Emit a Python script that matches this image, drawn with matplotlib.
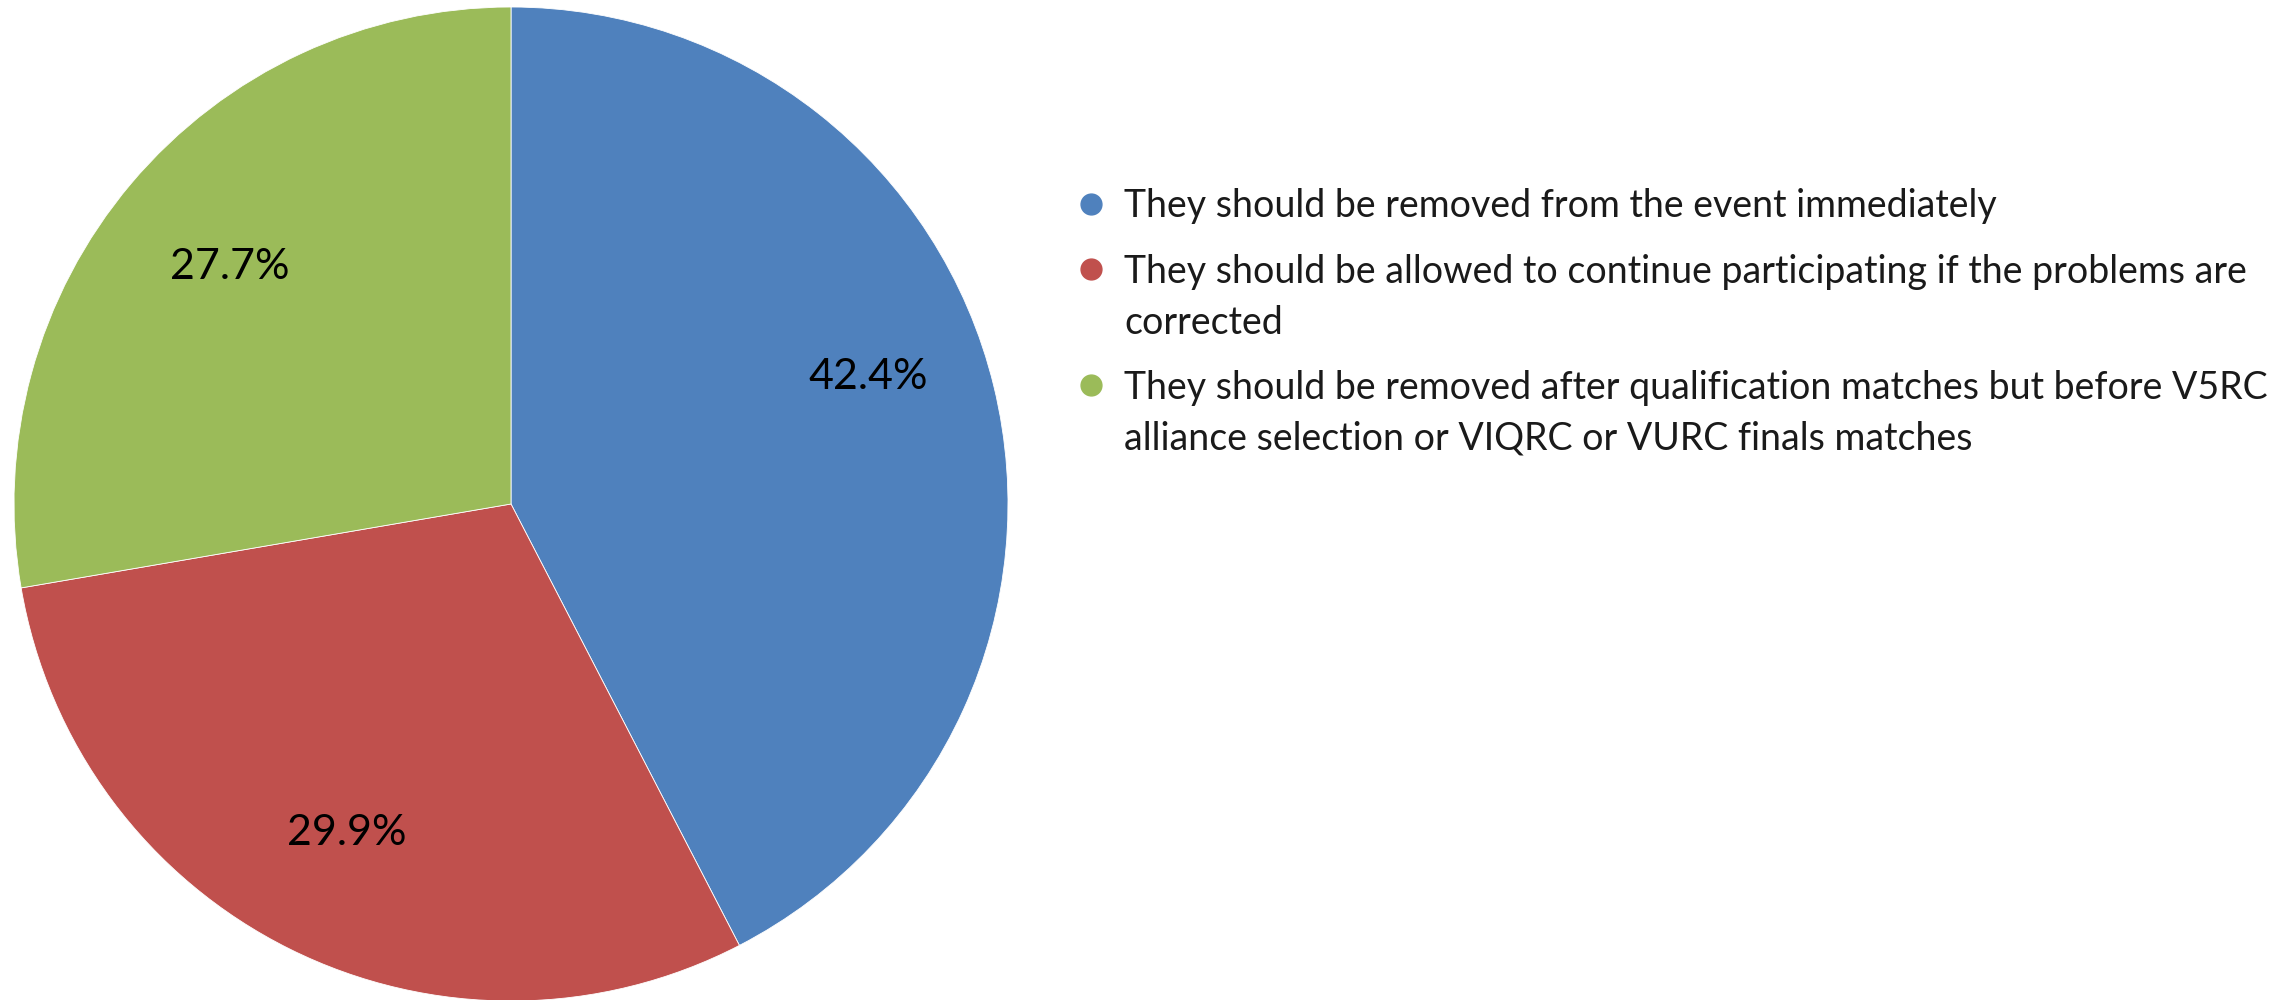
import matplotlib
matplotlib.use("Agg")
import matplotlib.pyplot as plt

plt.rcParams['font.family'] = ['Lato', 'DejaVu Sans']

responses = [
    "They should be removed from the event immediately",
    "They should be allowed to continue participating if the problems are\ncorrected",
    "They should be removed after qualification matches but before V5RC\nalliance selection or VIQRC or VURC finals matches",
]
shares = [42.4, 29.9, 27.7]
colors = ["#4F81BD", "#C0504D", "#9BBB59"]

W, H = 2282, 1000
fig = plt.figure(figsize=(W / 100, H / 100), dpi=100)

# pie occupies the left part of the canvas
cx, cy, r = 511, 504, 497
ax = fig.add_axes([(cx - r) / W, (H - cy - r) / H, 2 * r / W, 2 * r / H])
wedges, _, pct_texts = ax.pie(
    shares, colors=colors, startangle=90, counterclock=False,
    autopct="%.1f%%", pctdistance=0.74,
    wedgeprops=dict(edgecolor="white", linewidth=0.6),
    textprops=dict(fontsize=31, color="black"),
)
# nudge the largest slice's label a little upward
x0, y0 = pct_texts[0].get_position()
pct_texts[0].set_position((x0, y0 + 0.08))
ax.set_xlim(-1, 1)
ax.set_ylim(-1, 1)
ax.set_aspect("equal")
ax.axis("off")

# legend drawn on an overlay in pixel units
lg = fig.add_axes([0, 0, 1, 1])
lg.set_xlim(0, W)
lg.set_ylim(H, 0)
lg.axis("off")
marker_x, text_x = 1091, 1124
line_gap, entry_gap = 51, 65
fs = 27
cap_half = fs * 100 / 72 * 0.36
y = 204
for label, c in zip(responses, colors):
    lg.plot([marker_x], [y], marker="o", markersize=15, color=c, linestyle="none")
    lines = label.split("\n")
    for i, line in enumerate(lines):
        lg.text(text_x, y + i * line_gap + cap_half, line, fontsize=fs,
                va="baseline", ha="left", color="#1a1a1a")
    y += (len(lines) - 1) * line_gap + entry_gap

fig.savefig("out.png", dpi=100, facecolor="white")
